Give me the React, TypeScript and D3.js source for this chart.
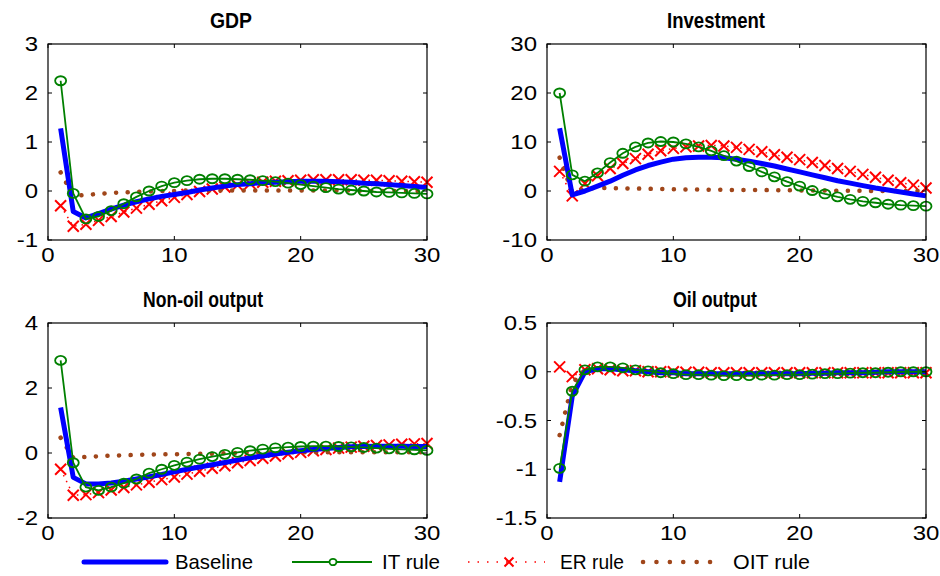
import React from "react";
import * as d3 from "d3";

const periods = d3.range(1, 31);

const gdpBaseline = [1.28, -0.42, -0.55, -0.46, -0.37, -0.29, -0.22, -0.16, -0.11, -0.07, -0.03, 0.02, 0.06, 0.1, 0.13, 0.15, 0.17, 0.18, 0.19, 0.2, 0.2, 0.2, 0.19, 0.18, 0.16, 0.15, 0.13, 0.11, 0.09, 0.07];
const gdpIT = [2.25, -0.05, -0.57, -0.52, -0.4, -0.26, -0.12, 0.0, 0.1, 0.17, 0.21, 0.24, 0.25, 0.25, 0.24, 0.23, 0.21, 0.19, 0.16, 0.13, 0.1, 0.07, 0.04, 0.02, 0.0, -0.02, -0.03, -0.04, -0.05, -0.06];
const gdpER = [-0.3, -0.72, -0.68, -0.6, -0.52, -0.43, -0.35, -0.27, -0.2, -0.13, -0.07, -0.01, 0.04, 0.08, 0.12, 0.15, 0.18, 0.2, 0.21, 0.22, 0.23, 0.23, 0.23, 0.23, 0.22, 0.22, 0.21, 0.2, 0.19, 0.18];
const gdpOIT = [0.38, -0.1, -0.08, -0.06, -0.04, -0.03, -0.02, -0.01, 0.0, 0.0, 0.01, 0.01, 0.01, 0.01, 0.01, 0.01, 0.01, 0.01, 0.01, 0.01, 0.01, 0.01, 0.01, 0.01, 0.0, 0.0, 0.0, 0.0, 0.0, 0.0];

const invBaseline = [12.8, -0.8, 0.0, 1.0, 2.0, 3.2, 4.3, 5.2, 5.9, 6.5, 6.8, 6.9, 6.9, 6.8, 6.5, 6.1, 5.6, 5.1, 4.5, 3.9, 3.3, 2.7, 2.1, 1.6, 1.1, 0.6, 0.2, -0.2, -0.6, -1.0];
const invIT = [20, 3.3, 2.0, 3.7, 5.8, 7.7, 9.0, 9.8, 10.1, 10.0, 9.6, 9.0, 8.2, 7.2, 6.1, 5.0, 3.9, 2.9, 1.9, 1.0, 0.1, -0.6, -1.2, -1.7, -2.1, -2.4, -2.7, -2.9, -3.0, -3.1];
const invER = [4.0, -1.0, 1.5, 3.1, 4.6, 5.6, 6.6, 7.5, 8.2, 8.7, 9.0, 9.2, 9.3, 9.2, 8.9, 8.5, 8.0, 7.4, 6.9, 6.4, 5.8, 5.2, 4.6, 4.0, 3.4, 2.8, 2.2, 1.7, 1.2, 0.6];
const invOIT = [6.8, -0.3, 0.5, 0.6, 0.6, 0.55, 0.5, 0.45, 0.4, 0.35, 0.3, 0.3, 0.25, 0.25, 0.2, 0.2, 0.2, 0.15, 0.15, 0.1, 0.1, 0.1, 0.05, 0.05, 0.05, 0.0, 0.0, 0.0, 0.0, 0.0];

const nonOilBaseline = [1.4, -0.75, -0.95, -0.95, -0.92, -0.87, -0.8, -0.73, -0.66, -0.58, -0.5, -0.43, -0.36, -0.29, -0.22, -0.15, -0.09, -0.03, 0.02, 0.07, 0.11, 0.14, 0.17, 0.19, 0.2, 0.21, 0.21, 0.21, 0.2, 0.2];
const nonOilIT = [2.85, -0.3, -1.05, -1.15, -1.05, -0.93, -0.8, -0.62, -0.5, -0.38, -0.28, -0.19, -0.11, -0.04, 0.02, 0.07, 0.12, 0.16, 0.18, 0.2, 0.21, 0.21, 0.2, 0.19, 0.17, 0.15, 0.13, 0.11, 0.1, 0.08];
const nonOilER = [-0.5, -1.3, -1.28, -1.22, -1.14, -1.06, -0.98, -0.9, -0.82, -0.74, -0.65, -0.56, -0.47, -0.39, -0.3, -0.23, -0.16, -0.09, -0.03, 0.02, 0.07, 0.11, 0.15, 0.18, 0.21, 0.23, 0.25, 0.27, 0.28, 0.29];
const nonOilOIT = [0.47, -0.15, -0.12, -0.1, -0.08, -0.07, -0.06, -0.05, -0.04, -0.04, -0.03, -0.02, -0.02, -0.01, 0.0, 0.01, 0.01, 0.02, 0.02, 0.02, 0.02, 0.02, 0.02, 0.02, 0.02, 0.02, 0.02, 0.02, 0.02, 0.02];

const oilBaseline = [-1.13, -0.25, 0.0, 0.03, 0.03, 0.02, 0.01, 0.0, -0.01, -0.01, -0.02, -0.02, -0.02, -0.02, -0.02, -0.02, -0.02, -0.02, -0.02, -0.02, -0.015, -0.015, -0.01, -0.01, -0.01, -0.005, 0, 0, 0, 0];
const oilIT = [-0.99, -0.2, 0.02, 0.05, 0.05, 0.04, 0.02, 0.01, -0.01, -0.02, -0.03, -0.03, -0.035, -0.04, -0.04, -0.04, -0.035, -0.035, -0.03, -0.03, -0.025, -0.02, -0.02, -0.015, -0.01, -0.01, -0.005, 0, 0, 0];
const oilER = [0.05, -0.05, 0.02, 0.03, 0.02, 0.01, 0.01, 0.0, 0.0, 0.0, -0.005, -0.005, -0.01, -0.01, -0.01, -0.01, -0.01, -0.01, -0.01, -0.01, -0.01, -0.01, -0.01, -0.01, -0.01, -0.01, -0.01, -0.01, -0.01, -0.01];
const oilOIT = [-0.65, -0.12, 0.02, 0.03, 0.03, 0.02, 0.01, 0.0, 0.0, -0.01, -0.01, -0.01, -0.01, -0.01, -0.01, -0.01, -0.01, -0.01, -0.01, -0.01, -0.01, -0.01, -0.01, -0.01, -0.005, -0.005, 0, 0, 0, 0];

const panelTitles = ["GDP", "Investment", "Non-oil output", "Oil output"];
const xTicks = [0, 10, 20, 30];
const gdpTicks = [-1, 0, 1, 2, 3];
const invTicks = [-10, 0, 10, 20, 30];
const nonOilTicks = [-2, 0, 2, 4];
const oilTicks = [-1.5, -1, -0.5, 0, 0.5];
const legendLabels = ["Baseline", "IT rule", "ER rule", "OIT rule"];

const COLORS = { base: "#0000FF", it: "#008000", er: "#FF0000", oit: "#A0461A" };
const FONT = "'Liberation Sans', Arial, sans-serif";

const panels = [
  { title: panelTitles[0], ticks: gdpTicks, base: gdpBaseline, it: gdpIT, er: gdpER, oit: gdpOIT,
    box: [48, 44, 427, 240], titlePos: [210, 28, 42] },
  { title: panelTitles[1], ticks: invTicks, base: invBaseline, it: invIT, er: invER, oit: invOIT,
    box: [547, 44, 926, 240], titlePos: [667, 28, 98] },
  { title: panelTitles[2], ticks: nonOilTicks, base: nonOilBaseline, it: nonOilIT, er: nonOilER, oit: nonOilOIT,
    box: [48, 323, 427, 518], titlePos: [143, 307, 120] },
  { title: panelTitles[3], ticks: oilTicks, base: oilBaseline, it: oilIT, er: oilER, oit: oilOIT,
    box: [547, 323, 926, 518], titlePos: [673, 307, 84] },
];

function XMark({ x, y, s = 5.5 }: { x: number; y: number; s?: number }) {
  return (
    <path d={`M${x - s},${y - s}L${x + s},${y + s}M${x - s},${y + s}L${x + s},${y - s}`}
      stroke={COLORS.er} strokeWidth={2} fill="none" />
  );
}

function OMark({ x, y }: { x: number; y: number }) {
  return <ellipse cx={x} cy={y} rx={5.5} ry={4.5} fill="none" stroke={COLORS.it} strokeWidth={1.8} />;
}

function Panel({ p }: { p: any }) {
  const [x0, y0, x1, y1] = p.box;
  const ticks: number[] = p.ticks;
  const x = d3.scaleLinear().domain([0, 30]).range([x0, x1]);
  const y = d3.scaleLinear().domain([ticks[0], ticks[ticks.length - 1]]).range([y1, y0]);
  const line = (vals: number[]) =>
    d3.line<number>().x((_, i) => x(periods[i])).y((v) => y(v))(vals) || "";
  const tl = 4;
  return (
    <g>
      <rect x={x0} y={y0} width={x1 - x0} height={y1 - y0} fill="#fff" stroke="none" />
      <defs>
        <clipPath id={`clip-${x0}-${y0}`}>
          <rect x={x0} y={y0 - 8} width={x1 - x0 + 8} height={y1 - y0 + 16} />
        </clipPath>
      </defs>
      <g clipPath={`url(#clip-${x0}-${y0})`}>
        <path d={line(p.er)} fill="none" stroke={COLORS.er} strokeWidth={1.5} strokeDasharray="1.5 5" />
        {p.er.map((v: number, i: number) => <XMark key={"er" + i} x={x(periods[i])} y={y(v)} />)}
        <path d={line(p.oit)} fill="none" stroke={COLORS.oit} strokeWidth={4.5} strokeLinecap="round" strokeDasharray="0.1 11.5" />
        <path d={line(p.base)} fill="none" stroke={COLORS.base} strokeWidth={5} strokeLinejoin="round" />
        <path d={line(p.it)} fill="none" stroke={COLORS.it} strokeWidth={1.8} />
        {p.it.map((v: number, i: number) => <OMark key={"it" + i} x={x(periods[i])} y={y(v)} />)}
      </g>
      <rect x={x0} y={y0} width={x1 - x0} height={y1 - y0} fill="none" stroke="#000" strokeWidth={1.2} />
      {xTicks.map((t) => (
        <g key={"xt" + t}>
          <line x1={x(t)} x2={x(t)} y1={y1} y2={y1 - tl} stroke="#000" />
          <line x1={x(t)} x2={x(t)} y1={y0} y2={y0 + tl} stroke="#000" />
          <text transform={`translate(${x(t)},${y1 + 22}) scale(1.2,1)`} textAnchor="middle" fontSize={20} fontFamily={FONT}>{String(t)}</text>
        </g>
      ))}
      {ticks.map((t) => (
        <g key={"yt" + t}>
          <line x1={x0} x2={x0 + tl} y1={y(t)} y2={y(t)} stroke="#000" />
          <line x1={x1} x2={x1 - tl} y1={y(t)} y2={y(t)} stroke="#000" />
          <text transform={`translate(${x0 - 10},${y(t) + 7}) scale(1.2,1)`} textAnchor="end" fontSize={20} fontFamily={FONT}>{String(t)}</text>
        </g>
      ))}
      <text x={p.titlePos[0]} y={p.titlePos[1]} fontSize={22} fontWeight="bold" fontFamily={FONT}
        textLength={p.titlePos[2]} lengthAdjust="spacingAndGlyphs">{p.title}</text>
    </g>
  );
}

export default function App() {
  const ly = 562;
  const ty = 569;
  return (
    <svg width={940} height={576} style={{ position: "absolute", left: 0, top: 0, background: "#fff" }}>
      <rect x={0} y={0} width={940} height={576} fill="#fff" />
      {panels.map((p, i) => <Panel key={i} p={p} />)}
      <g>
        <line x1={84} x2={166} y1={ly} y2={ly} stroke={COLORS.base} strokeWidth={5} strokeLinecap="round" />
        <text x={175} y={ty} fontSize={21} fontFamily={FONT} textLength={78} lengthAdjust="spacingAndGlyphs">{legendLabels[0]}</text>

        <line x1={292} x2={372} y1={ly} y2={ly} stroke={COLORS.it} strokeWidth={1.8} />
        <ellipse cx={333} cy={ly} rx={3.5} ry={3.2} fill="#fff" stroke={COLORS.it} strokeWidth={1.8} />
        <text x={382} y={ty} fontSize={21} fontFamily={FONT} textLength={58} lengthAdjust="spacingAndGlyphs">{legendLabels[1]}</text>

        <line x1={468} x2={545} y1={ly} y2={ly} stroke={COLORS.er} strokeWidth={1.5} strokeDasharray="1.5 8" />
        <XMark x={509} y={ly} s={4.5} />
        <text x={560} y={ty} fontSize={21} fontFamily={FONT} textLength={64} lengthAdjust="spacingAndGlyphs">{legendLabels[2]}</text>

        <line x1={643} x2={723} y1={ly} y2={ly} stroke={COLORS.oit} strokeWidth={4.5} strokeLinecap="round" strokeDasharray="0.1 13.3" />
        <text x={733} y={ty} fontSize={21} fontFamily={FONT} textLength={77} lengthAdjust="spacingAndGlyphs">{legendLabels[3]}</text>
      </g>
    </svg>
  );
}
